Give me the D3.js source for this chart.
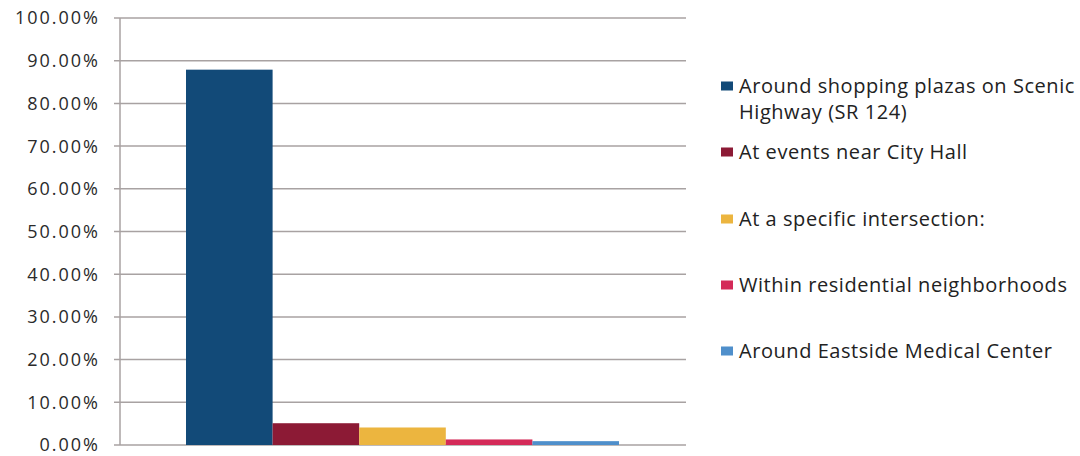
<!DOCTYPE html>
<html><head><meta charset="utf-8">
<script src="https://cdn.jsdelivr.net/npm/d3@7"></script>
<style>body{margin:0;background:#fff}svg{display:block}text{font-family:"Open Sans",sans-serif}</style>
</head><body><svg id="c" width="1080" height="456"></svg>
<script>
const categories = ["Around shopping plazas on Scenic Highway (SR 124)","At events near City Hall","At a specific intersection:","Within residential neighborhoods","Around Eastside Medical Center"];
const legendLines = [["Around shopping plazas on Scenic","Highway (SR 124)"],["At events near City Hall"],["At a specific intersection:"],["Within residential neighborhoods"],["Around Eastside Medical Center"]];
const values = [0.879, 0.051, 0.041, 0.013, 0.009];
const colors = ["#124a78","#8c1a35","#ecb53f","#d42a58","#4f8fcb"];
const yTicks = [0,0.1,0.2,0.3,0.4,0.5,0.6,0.7,0.8,0.9,1.0];

(function(){
const svg = d3.select("#c");
const pL=120,pR=686,pT=18,pB=445;
const y = d3.scaleLinear().domain([0,1]).range([pB,pT]);
const x = d3.scaleBand().domain(categories).range([186,619]).padding(0);

svg.append("g").selectAll("line").data(yTicks).join("line")
  .attr("x1",pL-6).attr("x2",pR).attr("y1",d=>y(d)).attr("y2",d=>y(d))
  .attr("stroke","#a8a2a2").attr("stroke-width",1.5);
svg.append("line").attr("x1",pL).attr("x2",pL).attr("y1",pT).attr("y2",pB)
  .attr("stroke","#a8a2a2").attr("stroke-width",1.5);

const ax = d3.axisLeft(y).tickValues(yTicks).tickFormat(d=>d3.format(".2%")(d)).tickSize(0).tickPadding(0);
const g = svg.append("g").attr("transform","translate(100,0)").call(ax);
g.select(".domain").remove();
g.selectAll("text").attr("font-size",18).attr("fill","#2a2a2a").attr("dy","0.33em")
  .style("font-family","'Open Sans',sans-serif").style("letter-spacing","2px");

svg.append("g").selectAll("rect").data(categories).join("rect")
  .attr("x",d=>x(d)).attr("width",x.bandwidth())
  .attr("y",(d,i)=>y(values[i])).attr("height",(d,i)=>pB-y(values[i]))
  .attr("fill",(d,i)=>colors[i]);

const legY=[86,152,219,285,351];
const lg = svg.append("g");
legendLines.forEach((lines,i)=>{
  lg.append("rect").attr("x",721).attr("y",legY[i]-4.5).attr("width",12).attr("height",9).attr("fill",colors[i]);
  lines.forEach((t,j)=>{
    lg.append("text").attr("x",739).attr("y",legY[i]+j*26).attr("dy","0.35em")
      .attr("font-size",20).attr("fill","#222").style("letter-spacing","0.55px").text(t);
  });
});
})();
</script></body></html>
